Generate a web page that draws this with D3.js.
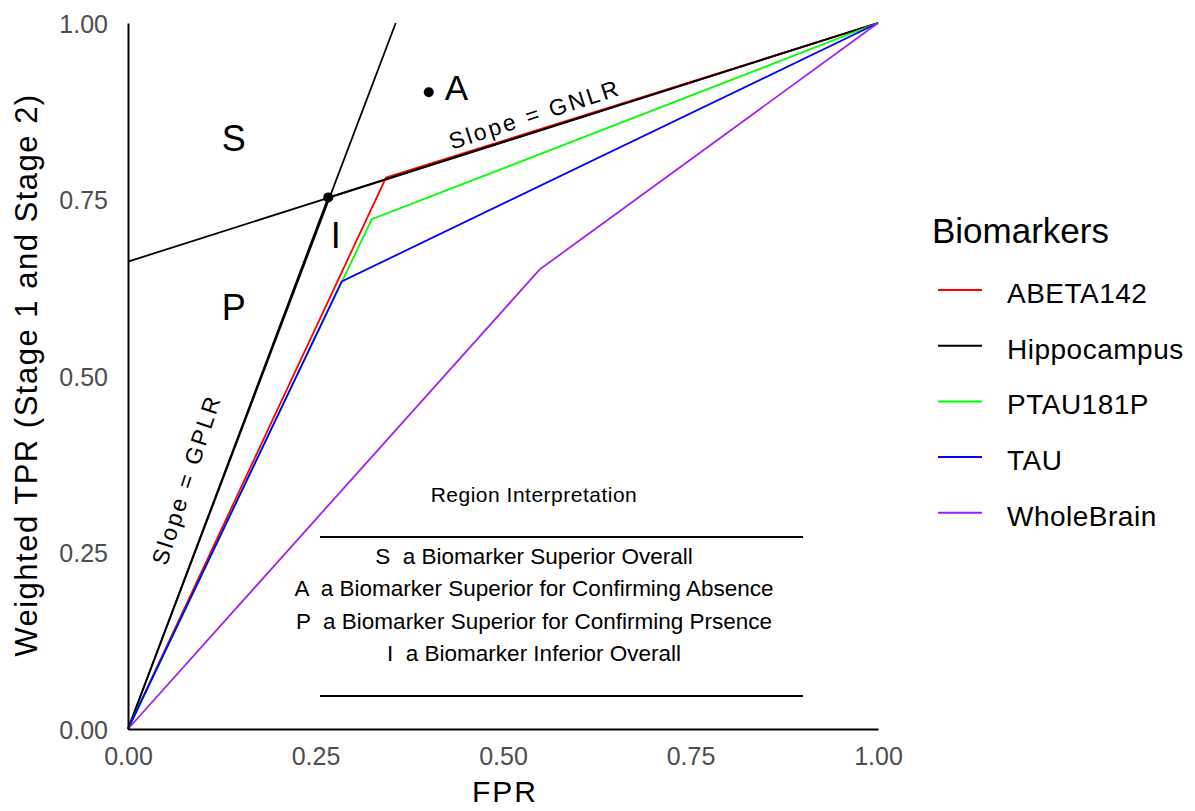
<!DOCTYPE html>
<html>
<head>
<meta charset="utf-8">
<script src="https://cdn.jsdelivr.net/npm/d3@7"></script>
<style>
  body { margin: 0; background: #fff; }
  text { font-family: "Liberation Sans", Arial, sans-serif; }
</style>
</head>
<body>
<div id="chart"></div>
<script>
// values
const fprTicks = [0, 0.25, 0.5, 0.75, 1];
const tprTicks = [0, 0.25, 0.5, 0.75, 1];
const biomarkers = ["ABETA142", "Hippocampus", "PTAU181P", "TAU", "WholeBrain"];
const biomarkerColors = ["#ff0000", "#000000", "#00ff00", "#0000ff", "#a020f0"];

const abeta142 = [[0, 0], [0.344, 0.781], [1, 1]];
const hippocampus = [[0, 0], [0.267, 0.753], [1, 1]];
const ptau181p = [[0, 0], [0.325, 0.722], [1, 1]];
const tau = [[0, 0], [0.285, 0.634], [1, 1]];
const wholeBrain = [[0, 0], [0.549, 0.651], [1, 1]];
const curves = [abeta142, hippocampus, ptau181p, tau, wholeBrain];

// reference lines through the Hippocampus cut point
const gplrLine = [[0, 0], [0.357, 1]];
const gnlrLine = [[0, 0.662], [1, 1]];
const cutPoint = [0.267, 0.753];
const pointA = [0.401, 0.902];

const regionLabels = [
  { txt: "S", fpr: 0.141, tpr: 0.818 },
  { txt: "P", fpr: 0.141, tpr: 0.580 },
  { txt: "I", fpr: 0.277, tpr: 0.682 }
];
const tableRows = [
  "S  a Biomarker Superior Overall",
  "A  a Biomarker Superior for Confirming Absence",
  "P  a Biomarker Superior for Confirming Prsence",
  "I  a Biomarker Inferior Overall"
];

const width = 1195, height = 811;
const svg = d3.select("#chart").append("svg")
  .attr("width", width)
  .attr("height", height);

const x = d3.scaleLinear().domain([0, 1]).range([128, 878]);
const y = d3.scaleLinear().domain([0, 1]).range([729, 23]);

const line = d3.line().x(d => x(d[0])).y(d => y(d[1]));

// reference lines
svg.append("path").datum(gplrLine)
  .attr("d", line).attr("fill", "none").attr("stroke", "#000").attr("stroke-width", 1.8);
svg.append("path").datum(gnlrLine)
  .attr("d", line).attr("fill", "none").attr("stroke", "#000").attr("stroke-width", 1.8);

// roc curves
svg.selectAll(".curve")
  .data(curves)
  .enter()
  .append("path")
  .attr("class", "curve")
  .attr("d", line)
  .attr("fill", "none")
  .attr("stroke", (d, i) => biomarkerColors[i])
  .attr("stroke-width", 1.8);

// points
svg.selectAll(".pt")
  .data([cutPoint, pointA])
  .enter()
  .append("circle")
  .attr("cx", d => x(d[0]))
  .attr("cy", d => y(d[1]))
  .attr("r", 5)
  .attr("fill", "#000");

svg.append("text")
  .attr("x", x(pointA[0]) + 16).attr("y", y(pointA[1]) + 8)
  .attr("font-size", 35).attr("fill", "#000")
  .text("A");

svg.selectAll(".region")
  .data(regionLabels)
  .enter()
  .append("text")
  .attr("x", d => x(d.fpr))
  .attr("y", d => y(d.tpr))
  .attr("text-anchor", "middle")
  .attr("font-size", 36)
  .attr("fill", "#000")
  .text(d => d.txt);

// slope labels
svg.append("text")
  .attr("transform", "translate(537,122) rotate(-18)")
  .attr("text-anchor", "middle")
  .attr("font-size", 23)
  .attr("letter-spacing", 2.5)
  .text("Slope = GNLR");
svg.append("text")
  .attr("transform", "translate(194,482) rotate(-72)")
  .attr("text-anchor", "middle")
  .attr("font-size", 23)
  .attr("letter-spacing", 2.5)
  .text("Slope = GPLR");

// region interpretation table
const tableX = 534;
svg.append("text")
  .attr("x", tableX).attr("y", 502)
  .attr("text-anchor", "middle").attr("font-size", 21)
  .attr("letter-spacing", 0.5)
  .text("Region Interpretation");
svg.append("line")
  .attr("x1", 320).attr("x2", 803).attr("y1", 537).attr("y2", 537)
  .attr("stroke", "#000").attr("stroke-width", 2);
svg.append("line")
  .attr("x1", 320).attr("x2", 803).attr("y1", 696).attr("y2", 696)
  .attr("stroke", "#000").attr("stroke-width", 2);
svg.selectAll(".row")
  .data(tableRows)
  .enter()
  .append("text")
  .attr("x", tableX)
  .attr("y", (d, i) => 564 + i * 32.3)
  .attr("text-anchor", "middle")
  .attr("font-size", 22.5)
  .style("white-space", "pre")
  .text(d => d);

// axes
const xAxis = svg.append("g")
  .attr("transform", `translate(0,${y(0)})`)
  .call(d3.axisBottom(x).tickValues(fprTicks).tickFormat(d3.format(".2f")).tickSize(0).tickPadding(18));
const yAxis = svg.append("g")
  .attr("transform", `translate(${x(0)},0)`)
  .call(d3.axisLeft(y).tickValues(tprTicks).tickFormat(d3.format(".2f")).tickSize(0).tickPadding(20));
[xAxis, yAxis].forEach(g => {
  g.attr("font-size", null).attr("font-family", null);
  g.select(".domain").attr("stroke", "#000").attr("stroke-width", 2);
  g.selectAll("text").attr("font-size", 25).attr("fill", "#4d4d4d");
});
yAxis.selectAll("text").attr("dy", "0.36em");

svg.append("text")
  .attr("x", x(0.5) + 2).attr("y", 802)
  .attr("text-anchor", "middle").attr("font-size", 30)
  .attr("letter-spacing", 2)
  .text("FPR");
svg.append("text")
  .attr("transform", `translate(37,${375}) rotate(-90)`)
  .attr("text-anchor", "middle").attr("font-size", 31)
  .attr("letter-spacing", 1.5)
  .text("Weighted TPR (Stage 1 and Stage 2)");

// legend
const legend = svg.append("g").attr("transform", "translate(932,0)");
legend.append("text")
  .attr("x", 0).attr("y", 243)
  .attr("font-size", 35)
  .text("Biomarkers");
const items = legend.selectAll(".item")
  .data(biomarkers)
  .enter()
  .append("g")
  .attr("transform", (d, i) => `translate(0,${290 + i * 55.7})`);
items.append("line")
  .attr("x1", 6).attr("x2", 50).attr("y1", 0).attr("y2", 0)
  .attr("stroke", (d, i) => biomarkerColors[i]).attr("stroke-width", 2);
items.append("text")
  .attr("x", 75).attr("y", 13)
  .attr("font-size", 28)
  .attr("letter-spacing", 0.5)
  .text(d => d);
</script>
</body>
</html>
